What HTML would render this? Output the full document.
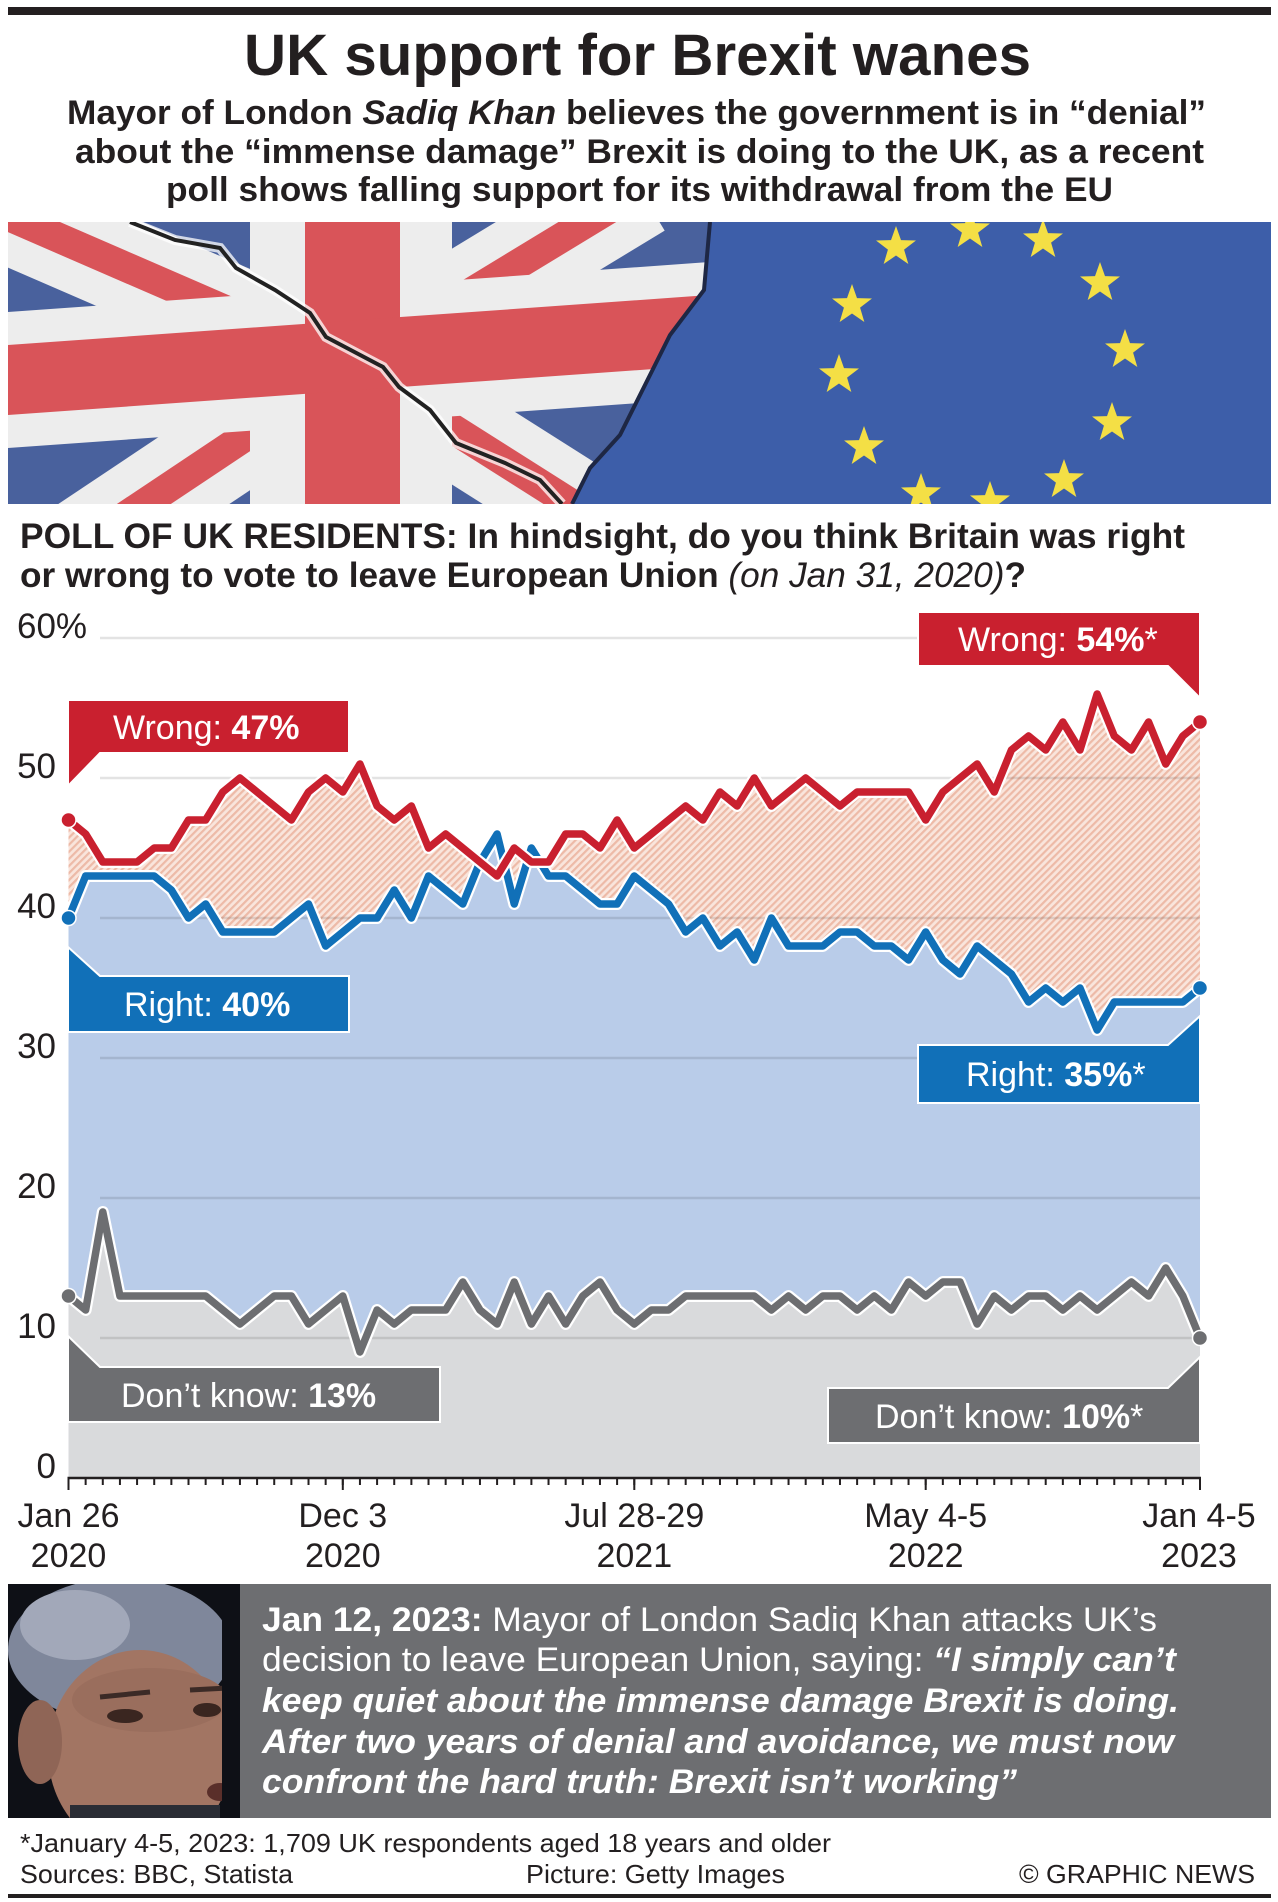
<!DOCTYPE html>
<html>
<head>
<meta charset="utf-8">
<style>
html,body{margin:0;padding:0;background:#fff;}
svg{display:block;}
</style>
</head>
<body>
<svg width="1278" height="1902" viewBox="0 0 1278 1902" xmlns="http://www.w3.org/2000/svg" font-family="'Liberation Sans', Arial, sans-serif">
<defs>
  <pattern id="hatch" width="5" height="5" patternUnits="userSpaceOnUse" patternTransform="rotate(45)">
    <rect width="5" height="5" fill="#f9e5dc"/>
    <rect width="2.2" height="5" fill="#edbaa7"/>
  </pattern>
  <clipPath id="hc">
    <polygon transform="translate(68.5,1478) scale(17.1439,-14)" points="0,0 0,47 1,46 2,44 3,44 4,44 5,45 6,45 7,47 8,47 9,49 10,50 11,49 12,48 13,47 14,49 15,50 16,49 17,51 18,48 19,47 20,48 21,45 22,46 23,45 24,44 25,43 26,45 27,44 28,44 29,46 30,46 31,45 32,47 33,45 34,46 35,47 36,48 37,47 38,49 39,48 40,50 41,48 42,49 43,50 44,49 45,48 46,49 47,49 48,49 49,49 50,47 51,49 52,50 53,51 54,49 55,52 56,53 57,52 58,54 59,52 60,56 61,53 62,52 63,54 64,51 65,53 66,54 66,0"/>
  </clipPath>
  <clipPath id="flagClip"><rect x="8" y="222" width="1263" height="282"/></clipPath>
  <clipPath id="ukClip"><polygon points="8,222 710,222 704,290 670,335 645,385 620,435 590,468 572,504 8,504"/></clipPath>
  <clipPath id="photoClip"><rect x="8" y="1584" width="232" height="234"/></clipPath>
  <path id="star" d="M0,-21 L5,-6.88 L19.97,-6.49 L8.08,2.63 L12.34,16.99 L0,8.5 L-12.34,16.99 L-8.08,2.63 L-19.97,-6.49 L-5,-6.88 Z"/>
</defs>

<rect width="1278" height="1902" fill="#fff"/>

<!-- top bar -->
<rect x="8" y="7" width="1263" height="8" fill="#231f20"/>

<!-- title -->
<text x="244" y="75" font-size="58" font-weight="700" fill="#231f20" textLength="787" lengthAdjust="spacingAndGlyphs">UK support for Brexit wanes</text>
<text x="67" y="124" font-size="34" font-weight="700" fill="#231f20" textLength="1139" lengthAdjust="spacingAndGlyphs">Mayor of London <tspan font-style="italic">Sadiq Khan</tspan> believes the government is in “denial”</text>
<text x="75" y="163" font-size="34" font-weight="700" fill="#231f20" textLength="1129" lengthAdjust="spacingAndGlyphs">about the “immense damage” Brexit is doing to the UK, as a recent</text>
<text x="166" y="201" font-size="34" font-weight="700" fill="#231f20" textLength="947" lengthAdjust="spacingAndGlyphs">poll shows falling support for its withdrawal from the EU</text>

<!-- flag image -->
<g clip-path="url(#flagClip)">
  <rect x="8" y="222" width="1263" height="282" fill="#3d5ea9"/>
  <g fill="#f4df45">
    <use href="#star" x="896" y="247"/>
    <use href="#star" x="970" y="230"/>
    <use href="#star" x="1043" y="240"/>
    <use href="#star" x="1100" y="283"/>
    <use href="#star" x="852" y="305"/>
    <use href="#star" x="1125" y="350"/>
    <use href="#star" x="839" y="375"/>
    <use href="#star" x="1112" y="423"/>
    <use href="#star" x="864" y="447"/>
    <use href="#star" x="1064" y="480"/>
    <use href="#star" x="921" y="494"/>
    <use href="#star" x="990" y="502"/>
  </g>
  <g clip-path="url(#ukClip)">
    <rect x="8" y="222" width="710" height="282" fill="#3a5495"/>
    <g stroke="#ececec" stroke-width="95">
      <line x1="352" y1="365" x2="-40" y2="195"/>
      <line x1="352" y1="365" x2="640" y2="190"/>
      <line x1="352" y1="365" x2="60" y2="560"/>
      <line x1="352" y1="365" x2="660" y2="560"/>
    </g>
    <g stroke="#d6464b" stroke-width="30">
      <line x1="352" y1="365" x2="-40" y2="195"/>
      <line x1="352" y1="365" x2="640" y2="190"/>
      <line x1="352" y1="365" x2="60" y2="560"/>
      <line x1="352" y1="365" x2="660" y2="560"/>
    </g>
    <rect x="250" y="222" width="202" height="282" fill="#ececec"/>
    <polygon points="8,312 710,262 710,398 8,448" fill="#ececec"/>
    <rect x="305" y="222" width="95" height="282" fill="#d6464b"/>
    <polygon points="8,345 710,295 710,365 8,415" fill="#d6464b"/>
    <rect x="8" y="222" width="710" height="282" fill="#fff" opacity="0.08"/>
    <polyline points="130,222 175,240 220,248 236,268 275,290 310,313 326,337 383,367 399,387 430,410 456,443 505,463 540,480 562,504" fill="none" stroke="#fff" stroke-width="10" opacity="0.75"/>
    <polyline points="130,222 175,240 220,248 236,268 275,290 310,313 326,337 383,367 399,387 430,410 456,443 505,463 540,480 562,504" fill="none" stroke="#222" stroke-width="4"/>
  </g>
  <polyline points="710,222 704,290 670,335 645,385 620,435 590,468 572,504" fill="none" stroke="#1e2744" stroke-width="4"/>
</g>

<!-- poll question -->
<text x="20" y="548" font-size="35" font-weight="700" fill="#231f20" textLength="1165" lengthAdjust="spacingAndGlyphs">POLL OF UK RESIDENTS: In hindsight, do you think Britain was right</text>
<text x="20" y="587" font-size="35" font-weight="700" fill="#231f20" textLength="1006" lengthAdjust="spacingAndGlyphs">or wrong to vote to leave European Union <tspan font-weight="400" font-style="italic">(on Jan 31, 2020)</tspan>?</text>

<!-- chart fills -->
<rect x="68" y="600" width="1133" height="880" fill="url(#hatch)" clip-path="url(#hc)"/>
<polygon fill="#b9cce9" transform="translate(68.5,1478) scale(17.1439,-14)" points="0,0 0,40 1,43 2,43 3,43 4,43 5,43 6,42 7,40 8,41 9,39 10,39 11,39 12,39 13,40 14,41 15,38 16,39 17,40 18,40 19,42 20,40 21,43 22,42 23,41 24,44 25,46 26,41 27,45 28,43 29,43 30,42 31,41 32,41 33,43 34,42 35,41 36,39 37,40 38,38 39,39 40,37 41,40 42,38 43,38 44,38 45,39 46,39 47,38 48,38 49,37 50,39 51,37 52,36 53,38 54,37 55,36 56,34 57,35 58,34 59,35 60,32 61,34 62,34 63,34 64,34 65,34 66,35 66,0"/>
<polygon fill="#d9dadc" transform="translate(68.5,1478) scale(17.1439,-14)" points="0,0 0,13 1,12 2,19 3,13 4,13 5,13 6,13 7,13 8,13 9,12 10,11 11,12 12,13 13,13 14,11 15,12 16,13 17,9 18,12 19,11 20,12 21,12 22,12 23,14 24,12 25,11 26,14 27,11 28,13 29,11 30,13 31,14 32,12 33,11 34,12 35,12 36,13 37,13 38,13 39,13 40,13 41,12 42,13 43,12 44,13 45,13 46,12 47,13 48,12 49,14 50,13 51,14 52,14 53,11 54,13 55,12 56,13 57,13 58,12 59,13 60,12 61,13 62,14 63,13 64,15 65,13 66,10 66,0"/>

<!-- gridlines -->
<g stroke="#000" stroke-opacity="0.11" stroke-width="2.5">
  <line x1="100" y1="638" x2="918" y2="638"/>
  <line x1="100" y1="778" x2="1200" y2="778"/>
  <line x1="100" y1="918" x2="1200" y2="918"/>
  <line x1="100" y1="1058" x2="1200" y2="1058"/>
  <line x1="100" y1="1198" x2="1200" y2="1198"/>
  <line x1="100" y1="1338" x2="1200" y2="1338"/>
</g>

<!-- y labels -->
<g font-size="35" fill="#231f20">
  <text x="17" y="638">60%</text>
  <text x="56" y="778" text-anchor="end">50</text>
  <text x="56" y="918" text-anchor="end">40</text>
  <text x="56" y="1058" text-anchor="end">30</text>
  <text x="56" y="1198" text-anchor="end">20</text>
  <text x="56" y="1338" text-anchor="end">10</text>
  <text x="56" y="1478" text-anchor="end">0</text>
</g>

<!-- lines -->
<g fill="none" stroke-linejoin="round" stroke-linecap="round" transform="translate(68.5,1478) scale(17.1439,-14)">
  <polyline vector-effect="non-scaling-stroke" stroke="#fff" stroke-width="12" points="0,13 1,12 2,19 3,13 4,13 5,13 6,13 7,13 8,13 9,12 10,11 11,12 12,13 13,13 14,11 15,12 16,13 17,9 18,12 19,11 20,12 21,12 22,12 23,14 24,12 25,11 26,14 27,11 28,13 29,11 30,13 31,14 32,12 33,11 34,12 35,12 36,13 37,13 38,13 39,13 40,13 41,12 42,13 43,12 44,13 45,13 46,12 47,13 48,12 49,14 50,13 51,14 52,14 53,11 54,13 55,12 56,13 57,13 58,12 59,13 60,12 61,13 62,14 63,13 64,15 65,13 66,10"/>
  <polyline vector-effect="non-scaling-stroke" stroke="#6d6e71" stroke-width="7.5" points="0,13 1,12 2,19 3,13 4,13 5,13 6,13 7,13 8,13 9,12 10,11 11,12 12,13 13,13 14,11 15,12 16,13 17,9 18,12 19,11 20,12 21,12 22,12 23,14 24,12 25,11 26,14 27,11 28,13 29,11 30,13 31,14 32,12 33,11 34,12 35,12 36,13 37,13 38,13 39,13 40,13 41,12 42,13 43,12 44,13 45,13 46,12 47,13 48,12 49,14 50,13 51,14 52,14 53,11 54,13 55,12 56,13 57,13 58,12 59,13 60,12 61,13 62,14 63,13 64,15 65,13 66,10"/>
  <polyline vector-effect="non-scaling-stroke" stroke="#fff" stroke-width="12" points="0,40 1,43 2,43 3,43 4,43 5,43 6,42 7,40 8,41 9,39 10,39 11,39 12,39 13,40 14,41 15,38 16,39 17,40 18,40 19,42 20,40 21,43 22,42 23,41 24,44 25,46 26,41 27,45 28,43 29,43 30,42 31,41 32,41 33,43 34,42 35,41 36,39 37,40 38,38 39,39 40,37 41,40 42,38 43,38 44,38 45,39 46,39 47,38 48,38 49,37 50,39 51,37 52,36 53,38 54,37 55,36 56,34 57,35 58,34 59,35 60,32 61,34 62,34 63,34 64,34 65,34 66,35"/>
  <polyline vector-effect="non-scaling-stroke" stroke="#1170b8" stroke-width="7.5" points="0,40 1,43 2,43 3,43 4,43 5,43 6,42 7,40 8,41 9,39 10,39 11,39 12,39 13,40 14,41 15,38 16,39 17,40 18,40 19,42 20,40 21,43 22,42 23,41 24,44 25,46 26,41 27,45 28,43 29,43 30,42 31,41 32,41 33,43 34,42 35,41 36,39 37,40 38,38 39,39 40,37 41,40 42,38 43,38 44,38 45,39 46,39 47,38 48,38 49,37 50,39 51,37 52,36 53,38 54,37 55,36 56,34 57,35 58,34 59,35 60,32 61,34 62,34 63,34 64,34 65,34 66,35"/>
  <polyline vector-effect="non-scaling-stroke" stroke="#fff" stroke-width="12" points="0,47 1,46 2,44 3,44 4,44 5,45 6,45 7,47 8,47 9,49 10,50 11,49 12,48 13,47 14,49 15,50 16,49 17,51 18,48 19,47 20,48 21,45 22,46 23,45 24,44 25,43 26,45 27,44 28,44 29,46 30,46 31,45 32,47 33,45 34,46 35,47 36,48 37,47 38,49 39,48 40,50 41,48 42,49 43,50 44,49 45,48 46,49 47,49 48,49 49,49 50,47 51,49 52,50 53,51 54,49 55,52 56,53 57,52 58,54 59,52 60,56 61,53 62,52 63,54 64,51 65,53 66,54"/>
  <polyline vector-effect="non-scaling-stroke" stroke="#c9202f" stroke-width="7.5" points="0,47 1,46 2,44 3,44 4,44 5,45 6,45 7,47 8,47 9,49 10,50 11,49 12,48 13,47 14,49 15,50 16,49 17,51 18,48 19,47 20,48 21,45 22,46 23,45 24,44 25,43 26,45 27,44 28,44 29,46 30,46 31,45 32,47 33,45 34,46 35,47 36,48 37,47 38,49 39,48 40,50 41,48 42,49 43,50 44,49 45,48 46,49 47,49 48,49 49,49 50,47 51,49 52,50 53,51 54,49 55,52 56,53 57,52 58,54 59,52 60,56 61,53 62,52 63,54 64,51 65,53 66,54"/>
</g>

<!-- end dots -->
<g stroke="#fff" stroke-width="1.5">
  <circle cx="68.5" cy="1296" r="7.5" fill="#6d6e71"/>
  <circle cx="1200" cy="1338" r="7.5" fill="#6d6e71"/>
  <circle cx="68.5" cy="918" r="7.5" fill="#1170b8"/>
  <circle cx="1200" cy="988" r="7.5" fill="#1170b8"/>
  <circle cx="68.5" cy="820" r="7.5" fill="#c9202f"/>
  <circle cx="1200" cy="722" r="7.5" fill="#c9202f"/>
</g>

<!-- x axis -->
<line x1="67.5" y1="1478" x2="1201" y2="1478" stroke="#231f20" stroke-width="2.5"/>
<line x1="67.5" y1="1481.5" x2="1202" y2="1481.5" stroke="#231f20" stroke-width="7" stroke-dasharray="2 15.1439"/>
<g stroke="#231f20" stroke-width="2">
  <line x1="68.5" y1="1478" x2="68.5" y2="1490"/>
  <line x1="342.8" y1="1478" x2="342.8" y2="1490"/>
  <line x1="634.3" y1="1478" x2="634.3" y2="1490"/>
  <line x1="925.7" y1="1478" x2="925.7" y2="1490"/>
  <line x1="1200" y1="1478" x2="1200" y2="1490"/>
</g>
<g font-size="34" fill="#231f20" text-anchor="middle">
  <text x="68.5" y="1527">Jan 26</text>
  <text x="68.5" y="1567">2020</text>
  <text x="342.8" y="1527">Dec 3</text>
  <text x="342.8" y="1567">2020</text>
  <text x="634.3" y="1527">Jul 28-29</text>
  <text x="634.3" y="1567">2021</text>
  <text x="925.7" y="1527">May 4-5</text>
  <text x="925.7" y="1567">2022</text>
  <text x="1199" y="1527">Jan 4-5</text>
  <text x="1199" y="1567">2023</text>
</g>

<!-- label boxes -->
<g stroke="#fff" stroke-width="2">
  <polygon points="68,700 349,700 349,753 100,753 68,786" fill="#c9202f"/>
  <polygon points="68,947 100,976 349,976 349,1032 68,1032" fill="#1170b8"/>
  <polygon points="918,612 1200,612 1200,698 1168,666 918,666" fill="#c9202f"/>
  <polygon points="918,1045 1168,1045 1200,1016 1200,1103 918,1103" fill="#1170b8"/>
  <polygon points="68,1336 100,1367 440,1367 440,1422 68,1422" fill="#6d6e71"/>
  <polygon points="828,1388 1168,1388 1200,1357 1200,1443 828,1443" fill="#6d6e71"/>
</g>
<g font-size="34" fill="#fff">
  <text x="113" y="739">Wrong: <tspan font-weight="700">47%</tspan></text>
  <text x="124" y="1016">Right: <tspan font-weight="700">40%</tspan></text>
  <text x="958" y="651">Wrong: <tspan font-weight="700">54%</tspan>*</text>
  <text x="966" y="1086">Right: <tspan font-weight="700">35%</tspan>*</text>
  <text x="121" y="1407">Don’t know: <tspan font-weight="700">13%</tspan></text>
  <text x="875" y="1428">Don’t know: <tspan font-weight="700">10%</tspan>*</text>
</g>

<!-- bottom panel -->
<rect x="240" y="1584" width="1031" height="234" fill="#6d6e71"/>
<g clip-path="url(#photoClip)">
  <rect x="8" y="1584" width="232" height="234" fill="#0e1016"/>
  <ellipse cx="120" cy="1650" rx="112" ry="72" fill="#7f879b"/>
  <ellipse cx="75" cy="1625" rx="55" ry="35" fill="#a2a8b9"/>
  <ellipse cx="140" cy="1752" rx="92" ry="102" fill="#a27563"/>
  <ellipse cx="150" cy="1700" rx="78" ry="32" fill="#9a6e5d"/>
  <ellipse cx="40" cy="1742" rx="22" ry="42" fill="#8f6556"/>
  <ellipse cx="125" cy="1716" rx="18" ry="7" fill="#3a2620"/>
  <ellipse cx="207" cy="1710" rx="14" ry="7" fill="#3a2620"/>
  <path d="M100,1697 L150,1692" stroke="#3b2a26" stroke-width="5"/>
  <path d="M190,1690 L228,1688" stroke="#3b2a26" stroke-width="5"/>
  <ellipse cx="220" cy="1792" rx="13" ry="9" fill="#5a2f2a"/>
  <rect x="70" y="1805" width="150" height="14" fill="#2a2d35"/>
  <rect x="222" y="1584" width="18" height="234" fill="#0e1016"/>
</g>
<g fill="#fff" font-size="34">
  <text x="262" y="1631" textLength="895" lengthAdjust="spacingAndGlyphs"><tspan font-weight="700">Jan 12, 2023:</tspan> Mayor of London Sadiq Khan attacks UK’s</text>
  <text x="262" y="1671" textLength="914" lengthAdjust="spacingAndGlyphs">decision to leave European Union, saying: <tspan font-weight="700" font-style="italic">“I simply can’t</tspan></text>
  <text x="262" y="1712" font-weight="700" font-style="italic" textLength="917" lengthAdjust="spacingAndGlyphs">keep quiet about the immense damage Brexit is doing.</text>
  <text x="262" y="1753" font-weight="700" font-style="italic" textLength="912" lengthAdjust="spacingAndGlyphs">After two years of denial and avoidance, we must now</text>
  <text x="262" y="1793" font-weight="700" font-style="italic" textLength="755" lengthAdjust="spacingAndGlyphs">confront the hard truth: Brexit isn’t working”</text>
</g>

<!-- footer -->
<g fill="#231f20" font-size="26">
  <text x="20" y="1852" textLength="811" lengthAdjust="spacingAndGlyphs">*January 4-5, 2023: 1,709 UK respondents aged 18 years and older</text>
  <text x="20" y="1883" textLength="273" lengthAdjust="spacingAndGlyphs">Sources: BBC, Statista</text>
  <text x="526" y="1883" textLength="259" lengthAdjust="spacingAndGlyphs">Picture: Getty Images</text>
  <text x="1019" y="1883" textLength="236" lengthAdjust="spacingAndGlyphs">© GRAPHIC NEWS</text>
</g>
<rect x="8" y="1894" width="1263" height="4" fill="#231f20"/>
</svg>
</body>
</html>
